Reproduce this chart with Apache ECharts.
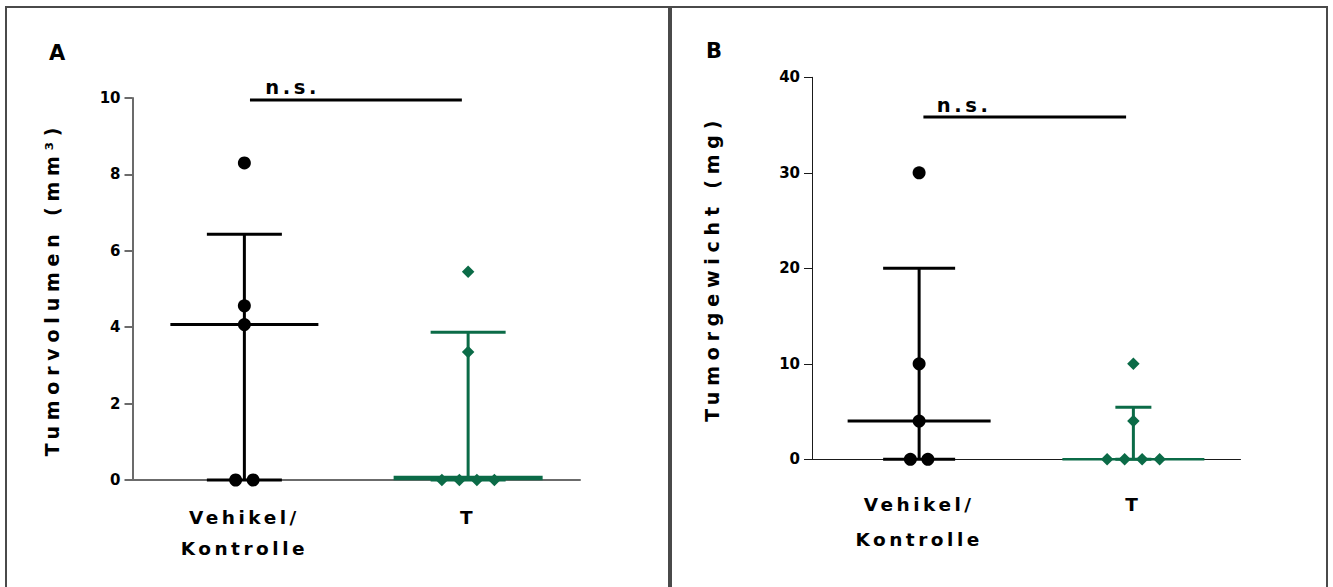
<!DOCTYPE html>
<html>
<head>
<meta charset="utf-8">
<script src="https://cdn.jsdelivr.net/npm/echarts@6/dist/echarts.min.js"></script>
<style>
  html, body { margin: 0; padding: 0; background: #fff; }
  #chart { width: 1333px; height: 587px; }
  /* the original figure is letter-spaced; keyed on font size */
  #chart svg text[style*="19px"] { letter-spacing: 5.8px; }
  #chart svg text[style*="18.5px"] { letter-spacing: 3.5px; }
  #chart svg text[style*="19.5px"] { letter-spacing: 3.6px; }
</style>
</head>
<body>
<div id="chart"></div>
<script>
// categories
const groups = ['Vehikel/\nKontrolle', 'T'];

// panel A: tumour volume (mm³)
const volVehikel = [8.3, 4.56, 4.07, 0, 0];
const volT = [5.45, 3.35, 0, 0, 0, 0];
const volMedian = [4.07, 0.05];
const volLow = [0, 0];
const volHigh = [6.43, 3.87];
const volTicks = [0, 2, 4, 6, 8, 10];

// panel B: tumour weight (mg)
const wtVehikel = [30, 10, 4, 0, 0];
const wtT = [10, 4, 0, 0, 0, 0];
const wtMedian = [4, 0];
const wtLow = [0, 0];
const wtHigh = [20, 5.44];
const wtTicks = [0, 10, 20, 30, 40];

// significance brackets [x1, x2, y]
const sigVol = [1.025, 1.972, 9.95];
const sigWt = [1.02, 1.966, 35.84];

const BLACK = '#000';
const GREEN = '#0b6b47';
const FONT = '"DejaVu Sans", "Liberation Sans", sans-serif';

const chart = echarts.init(document.getElementById('chart'), null, { renderer: 'svg' });

// spread equal values side by side, like a dot plot
function points(values, gx) {
  const spacing = 17.5;
  return values.map((v, i) => {
    const same = values.filter(w => w === v);
    const k = values.slice(0, i).filter(w => w === v).length;
    const off = (k - (same.length - 1) / 2) * spacing;
    return { value: [gx, v], symbolOffset: [off, 0] };
  });
}

function summary(opt) {
  return function (params, api) {
    const x = api.value(0);
    const med = api.coord([x, api.value(1)]);
    const lo = api.coord([x, api.value(2)]);
    const hi = api.coord([x, api.value(3)]);
    const line = (x1, y1, x2, y2, w) => ({
      type: 'line',
      shape: { x1, y1, x2, y2 },
      style: { stroke: opt.color, lineWidth: w }
    });
    return {
      type: 'group',
      children: [
        line(lo[0], lo[1], hi[0], hi[1], opt.lw),
        line(hi[0] - opt.cap, hi[1], hi[0] + opt.cap, hi[1], opt.lw),
        line(lo[0] - opt.cap, lo[1], lo[0] + opt.cap, lo[1], opt.lw),
        line(med[0] - opt.med, med[1], med[0] + opt.med, med[1], opt.medLw)
      ]
    };
  };
}

function summarySeries(xi, yi, gx, median, low, high, opt) {
  return {
    type: 'custom',
    xAxisIndex: xi,
    yAxisIndex: yi,
    encode: { x: 0, y: [1, 2, 3] },
    renderItem: summary(opt),
    data: [[gx, median, low, high]],
    z: 2
  };
}

function dotSeries(xi, yi, values, gx, symbol, color) {
  return {
    type: 'scatter',
    xAxisIndex: xi,
    yAxisIndex: yi,
    symbol: symbol,
    symbolSize: symbol === 'circle' ? 13 : 12.5,
    itemStyle: { color: color, opacity: 1 },
    data: points(values, gx),
    z: 5
  };
}

function sigSeries(xi, yi, sig, labelX) {
  return [{
    type: 'line',
    xAxisIndex: xi,
    yAxisIndex: yi,
    symbol: 'none',
    lineStyle: { color: BLACK, width: 3 },
    data: [[sig[0], sig[2]], [sig[1], sig[2]]],
    z: 3
  }, {
    type: 'scatter',
    xAxisIndex: xi,
    yAxisIndex: yi,
    symbolSize: 0,
    itemStyle: { color: BLACK, opacity: 1 },
    label: {
      show: true, position: 'top', distance: 2, opacity: 1,
      formatter: 'n.s.', color: BLACK,
      fontFamily: FONT, fontWeight: 'bold', fontSize: 19.5
    },
    data: [[labelX, sig[2]]],
    z: 3
  }];
}

function catAxis(grid, axisColor, axisWidth, tickColor, margin, lineHeight) {
  return {
    type: 'category',
    gridIndex: grid,
    data: groups,
    boundaryGap: true,
    axisLine: { lineStyle: { color: axisColor, width: axisWidth } },
    axisTick: { alignWithLabel: true, length: 9, lineStyle: { color: tickColor, width: 1.5 } },
    axisLabel: {
      interval: 0, margin: margin, lineHeight: lineHeight,
      color: BLACK, fontFamily: FONT, fontWeight: 'bold', fontSize: 18.5
    },
    splitLine: { show: false }
  };
}

function valAxis(grid, ticks, name, nameGap, axisColor, axisWidth) {
  return {
    type: 'value',
    gridIndex: grid,
    min: ticks[0],
    max: ticks[ticks.length - 1],
    interval: ticks[1] - ticks[0],
    name: name,
    nameLocation: 'middle',
    nameRotate: 90,
    nameGap: nameGap,
    nameTextStyle: { color: BLACK, fontFamily: FONT, fontWeight: 'bold', fontSize: 19 },
    axisLine: { show: true, lineStyle: { color: axisColor, width: axisWidth } },
    axisTick: { show: true, length: 8, lineStyle: { color: axisColor, width: axisWidth } },
    axisLabel: { margin: 12, color: BLACK, fontFamily: FONT, fontWeight: 'bold', fontSize: 15 },
    splitLine: { show: false }
  };
}

const hiddenX = grid => ({ type: 'value', gridIndex: grid, min: 0.5, max: 2.5, show: false });

const option = {
  animation: false,
  backgroundColor: '#fff',
  grid: [
    { left: 132.5, top: 98, width: 447.5, height: 382 },
    { left: 812, top: 77.3, width: 428.5, height: 382 }
  ],
  xAxis: [
    catAxis(0, '#6b6b6b', 2, '#333', 22, 31),
    hiddenX(0),
    catAxis(1, '#1a1a1a', 1, '#777', 28, 35),
    hiddenX(1)
  ],
  yAxis: [
    valAxis(0, volTicks, 'Tumorvolumen (mm³)', 71, '#6b6b6b', 2),
    valAxis(1, wtTicks, 'Tumorgewicht (mg)', 91, '#1a1a1a', 1)
  ],
  graphic: [
    { type: 'rect', shape: { x: 6, y: 7, width: 663, height: 620 },
      style: { fill: 'none', stroke: '#4a4a4a', lineWidth: 2 }, silent: true },
    { type: 'rect', shape: { x: 671, y: 7, width: 656, height: 620 },
      style: { fill: 'none', stroke: '#4a4a4a', lineWidth: 2 }, silent: true },
    { type: 'text', left: 49, top: 42,
      style: { text: 'A', fill: BLACK, font: 'bold 21px ' + FONT } },
    { type: 'text', left: 706, top: 40,
      style: { text: 'B', fill: BLACK, font: 'bold 21px ' + FONT } }
  ],
  series: [
    summarySeries(1, 0, 1, volMedian[0], volLow[0], volHigh[0],
      { color: BLACK, lw: 3, medLw: 3, cap: 37.5, med: 74 }),
    summarySeries(1, 0, 2, volMedian[1], volLow[1], volHigh[1],
      { color: GREEN, lw: 3, medLw: 4.5, cap: 37.5, med: 74.5 }),
    dotSeries(1, 0, volVehikel, 1, 'circle', BLACK),
    dotSeries(1, 0, volT, 2, 'diamond', GREEN),
    ...sigSeries(1, 0, sigVol, 1.216),

    summarySeries(3, 1, 1, wtMedian[0], wtLow[0], wtHigh[0],
      { color: BLACK, lw: 3, medLw: 3, cap: 36, med: 71.5 }),
    summarySeries(3, 1, 2, wtMedian[1], wtLow[1], wtHigh[1],
      { color: GREEN, lw: 3, medLw: 2.5, cap: 18, med: 71 }),
    dotSeries(3, 1, wtVehikel, 1, 'circle', BLACK),
    dotSeries(3, 1, wtT, 2, 'diamond', GREEN),
    ...sigSeries(3, 1, sigWt, 1.21)
  ]
};

chart.setOption(option);
</script>
</body>
</html>
